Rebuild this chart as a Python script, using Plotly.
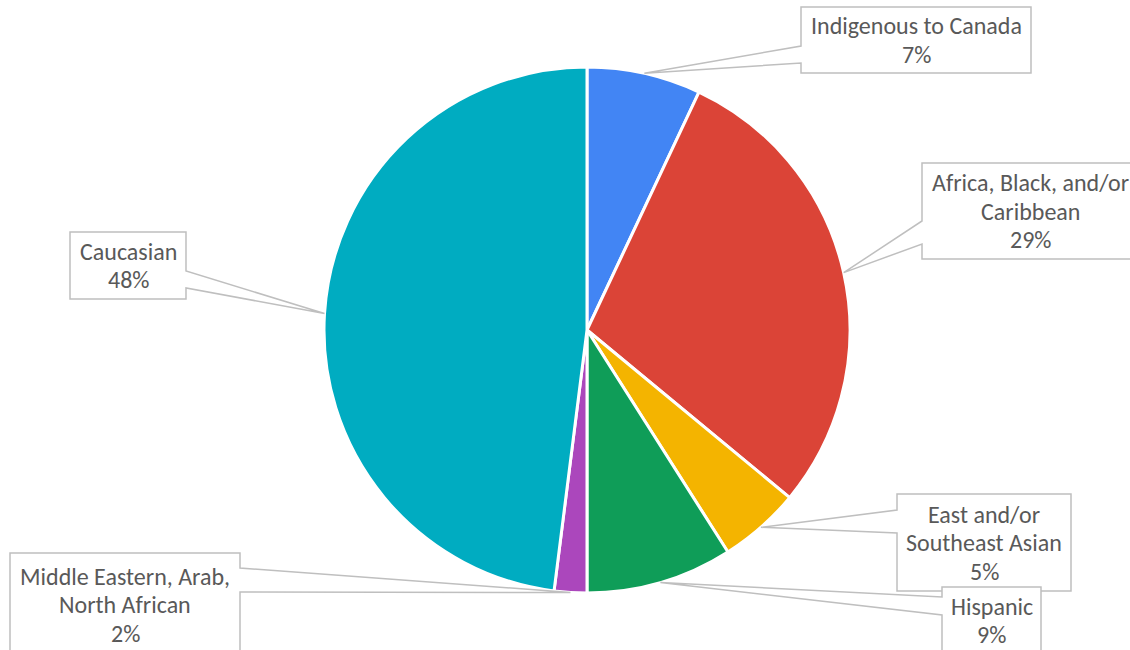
import math
import plotly.graph_objects as go

# Share of respondents by self-identified group (percent)
categories = [
    "Indigenous to Canada",
    "Africa, Black, and/or Caribbean",
    "East and/or Southeast Asian",
    "Hispanic",
    "Middle Eastern, Arab, North African",
    "Caucasian",
]
label_lines = [
    ["Indigenous to Canada"],
    ["Africa, Black, and/or", "Caribbean"],
    ["East and/or", "Southeast Asian"],
    ["Hispanic"],
    ["Middle Eastern, Arab,", "North African"],
    ["Caucasian"],
]
values = [7, 29, 5, 9, 2, 48]
colors = ["#4285F4", "#DB4437", "#F4B400", "#0F9D58", "#AB47BC", "#00ACC1"]

W, H = 1130, 650
CX, CY, R = 587, 330, 263
LINE_H = 28.5

# Callout boxes in pixels: (left, top, right, bottom, side, attach_y1, attach_y2)
boxes = [
    (801, 7, 1031, 73, "left", 46, 63),
    (922, 163, 1140, 259, "left", 221, 244),
    (897, 494, 1071, 591, "left", 510, 533),
    (942, 587, 1041, 654, "left", 597, 615),
    (10, 553, 240, 656, "right", 568, 592),
    (70, 232, 186, 299, "right", 271, 288),
]


def px(x):
    return x / W


def py(y):
    return 1 - y / H


fig = go.Figure(
    go.Pie(
        labels=categories,
        values=values,
        sort=False,
        direction="clockwise",
        rotation=0,
        marker=dict(colors=colors, line=dict(color="white", width=3)),
        textinfo="none",
        hoverinfo="label+percent",
        showlegend=False,
        domain=dict(
            x=[px(CX - R), px(CX + R)],
            y=[py(CY + R), py(CY - R)],
        ),
    )
)

total = sum(values)
cum = 0
shapes = []
annotations = []
for val, lines, box in zip(values, label_lines, boxes):
    mid = (cum + val / 2) / total * 2 * math.pi
    cum += val
    tx = CX + R * math.sin(mid)
    ty = CY - R * math.cos(mid)
    x0, y0, x1, y1, side, a1, a2 = box
    if side == "left":
        pts = [(x0, y0), (x1, y0), (x1, y1), (x0, y1), (x0, a2), (tx, ty), (x0, a1)]
    else:
        pts = [(x0, y0), (x1, y0), (x1, a1), (tx, ty), (x1, a2), (x1, y1), (x0, y1)]
    path = "M " + " L ".join(f"{px(a):.5f},{py(b):.5f}" for a, b in pts) + " Z"
    shapes.append(
        dict(
            type="path",
            xref="paper",
            yref="paper",
            path=path,
            fillcolor="white",
            line=dict(color="#BFBFBF", width=1.5),
            layer="above",
        )
    )
    rows = lines + [f"{val}%"]
    xc = (x0 + min(x1, W + 8)) / 2
    yc = (y0 + y1) / 2
    for i, row in enumerate(rows):
        yrow = yc + (i - (len(rows) - 1) / 2) * LINE_H
        annotations.append(
            dict(
                xref="paper",
                yref="paper",
                x=px(xc),
                y=py(yrow),
                text=row,
                showarrow=False,
                xanchor="center",
                yanchor="middle",
                font=dict(family="Carlito, 'Open Sans', sans-serif", size=24, color="#595959"),
            )
        )

fig.update_layout(
    width=W,
    height=H,
    margin=dict(l=0, r=0, t=0, b=0),
    paper_bgcolor="white",
    plot_bgcolor="white",
    shapes=shapes,
    annotations=annotations,
)

fig.write_html("out.html")
